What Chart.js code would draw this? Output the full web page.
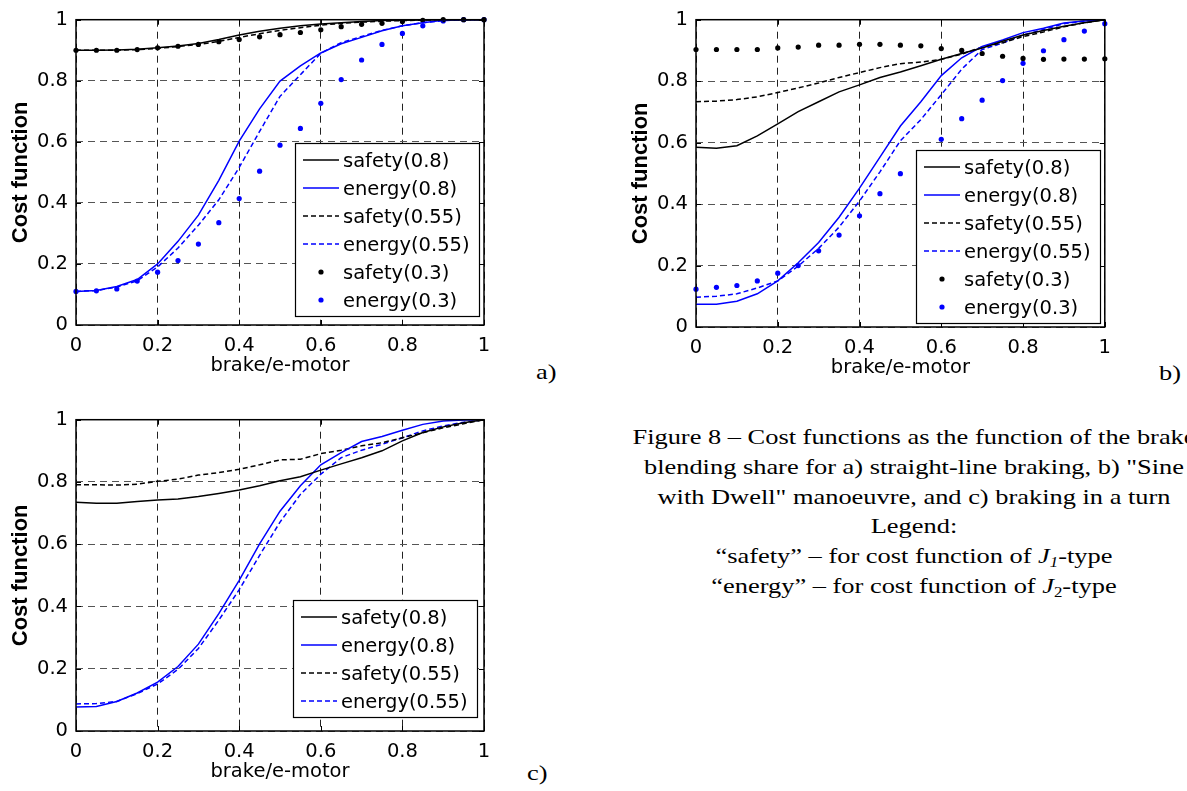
<!DOCTYPE html>
<html>
<head>
<meta charset="utf-8">
<script src="https://cdn.jsdelivr.net/npm/chart.js@4.4.1/dist/chart.umd.min.js"></script>
<style>
  html, body { margin: 0; padding: 0; background: #fff; }
  body { width: 1187px; height: 791px; overflow: hidden; position: relative; }
  canvas { position: absolute; }
  #chartA { left: 0; top: 0; }
  #chartB { left: 620px; top: 0; }
  #chartC { left: 0; top: 400px; }
  .tag, .caption {
    position: absolute;
    font-family: 'Liberation Serif', 'Times New Roman', serif;
    font-size: 22px;
    color: #000;
    white-space: nowrap;
  }
  .tag { line-height: 22px; transform: scaleX(1.2); transform-origin: 0 0; }
  .caption {
    left: 614px; top: 422px; width: 600px;
    text-align: center; line-height: 29.8px;
    transform: scaleX(1.2); transform-origin: 50% 0;
  }
  .caption sub { font-size: 14px; vertical-align: -4px; line-height: 0; }
</style>
</head>
<body>
<canvas id="chartA" width="500" height="388"></canvas>
<canvas id="chartB" width="500" height="390"></canvas>
<canvas id="chartC" width="500" height="394"></canvas>

<div class="tag" style="left:536px; top:361px;">a)</div>
<div class="tag" style="left:1159px; top:362px;">b)</div>
<div class="tag" style="left:527px; top:762px;">c)</div>

<div class="caption">
  Figure 8 – Cost functions as the function of the brake<br>
  blending share for a) straight-line braking, b) "Sine<br>
  with Dwell" manoeuvre, and c) braking in a turn<br>
  Legend:<br>
  “safety” – for cost function of <i>J<sub>1</sub></i>-type<br>
  “energy” – for cost function of <i>J</i><sub>2</sub>-type
</div>

<script>
// brake / e-motor share, sampled every 0.05
const brakeShare = [0, 0.05, 0.1, 0.15, 0.2, 0.25, 0.3, 0.35, 0.4, 0.45, 0.5,
                    0.55, 0.6, 0.65, 0.7, 0.75, 0.8, 0.85, 0.9, 0.95, 1];
const xTicks = [0, 0.2, 0.4, 0.6, 0.8, 1];
const yTicks = [0, 0.2, 0.4, 0.6, 0.8, 1];
const seriesLabels = ['safety(0.8)', 'energy(0.8)', 'safety(0.55)',
                      'energy(0.55)', 'safety(0.3)', 'energy(0.3)'];

// a) straight-line braking
const aSafety08  = [0.900, 0.900, 0.901, 0.903, 0.908, 0.914, 0.922, 0.935, 0.950, 0.962, 0.972,
                    0.980, 0.986, 0.990, 0.994, 0.997, 0.998, 0.999, 1.000, 1.000, 1.000];
const aEnergy08  = [0.110, 0.113, 0.126, 0.149, 0.200, 0.274, 0.360, 0.474, 0.602, 0.708, 0.799,
                    0.849, 0.891, 0.921, 0.942, 0.964, 0.980, 0.990, 0.998, 1.000, 1.000];
const aSafety055 = [0.900, 0.900, 0.900, 0.902, 0.906, 0.912, 0.919, 0.929, 0.942, 0.954, 0.965,
                    0.974, 0.982, 0.988, 0.992, 0.995, 0.997, 0.999, 1.000, 1.000, 1.000];
const aEnergy055 = [0.110, 0.113, 0.124, 0.145, 0.190, 0.252, 0.327, 0.410, 0.516, 0.634, 0.749,
                    0.820, 0.890, 0.925, 0.945, 0.965, 0.980, 0.990, 0.997, 1.000, 1.000];
const aSafety03  = [0.900, 0.900, 0.900, 0.902, 0.908, 0.913, 0.919, 0.928, 0.935, 0.944, 0.951,
                    0.958, 0.967, 0.977, 0.985, 0.988, 0.994, 0.998, 1.000, 1.000, 1.000];
const aEnergy03  = [0.110, 0.112, 0.118, 0.144, 0.173, 0.211, 0.265, 0.335, 0.414, 0.504, 0.589,
                    0.644, 0.726, 0.804, 0.868, 0.919, 0.955, 0.980, 0.996, 1.000, 1.000];

// b) "Sine with Dwell"
const bSafety08  = [0.585, 0.582, 0.590, 0.622, 0.661, 0.701, 0.733, 0.765, 0.788, 0.812, 0.830,
                    0.850, 0.871, 0.890, 0.908, 0.930, 0.950, 0.965, 0.979, 0.990, 1.000];
const bEnergy08  = [0.074, 0.074, 0.084, 0.108, 0.150, 0.209, 0.275, 0.357, 0.452, 0.553, 0.654,
                    0.733, 0.818, 0.876, 0.913, 0.934, 0.958, 0.972, 0.989, 0.996, 1.000];
const bSafety055 = [0.733, 0.735, 0.740, 0.749, 0.763, 0.778, 0.794, 0.812, 0.828, 0.844, 0.857,
                    0.862, 0.871, 0.888, 0.911, 0.925, 0.945, 0.960, 0.977, 0.990, 1.000];
const bEnergy055 = [0.097, 0.100, 0.108, 0.127, 0.150, 0.198, 0.256, 0.325, 0.410, 0.505, 0.606,
                    0.675, 0.756, 0.839, 0.903, 0.924, 0.950, 0.968, 0.987, 0.996, 1.000];
const bSafety03  = [0.903, 0.903, 0.903, 0.903, 0.908, 0.911, 0.917, 0.917, 0.920, 0.920, 0.917,
                    0.915, 0.906, 0.900, 0.890, 0.881, 0.874, 0.871, 0.872, 0.872, 0.873];
const bEnergy03  = [0.123, 0.129, 0.135, 0.150, 0.175, 0.200, 0.248, 0.299, 0.362, 0.434, 0.499,
                    0.555, 0.611, 0.678, 0.738, 0.802, 0.858, 0.899, 0.935, 0.963, 0.987];

// c) braking in a turn
const cSafety08  = [0.735, 0.732, 0.732, 0.737, 0.742, 0.745, 0.753, 0.763, 0.774, 0.788, 0.804,
                    0.817, 0.838, 0.858, 0.878, 0.900, 0.932, 0.959, 0.977, 0.990, 1.000];
const cEnergy08  = [0.077, 0.079, 0.095, 0.122, 0.157, 0.207, 0.279, 0.377, 0.484, 0.601, 0.706,
                    0.788, 0.855, 0.894, 0.930, 0.946, 0.966, 0.985, 0.996, 0.999, 1.000];
const cSafety055 = [0.791, 0.791, 0.790, 0.793, 0.802, 0.809, 0.822, 0.830, 0.841, 0.855, 0.871,
                    0.873, 0.891, 0.902, 0.916, 0.926, 0.942, 0.958, 0.974, 0.987, 1.000];
const cEnergy055 = [0.087, 0.088, 0.095, 0.120, 0.151, 0.198, 0.265, 0.356, 0.454, 0.564, 0.671,
                    0.760, 0.825, 0.878, 0.902, 0.921, 0.942, 0.964, 0.980, 0.992, 1.000];

const BLACK = '#000000';
const BLUE = '#0000ff';
const TICK_FONT = { family: 'DejaVu Sans', size: 19.5 };

// line style per legend slot
const styles = [
  { color: BLACK, kind: 'solid' },
  { color: BLUE,  kind: 'solid' },
  { color: BLACK, kind: 'dashed' },
  { color: BLUE,  kind: 'dashed' },
  { color: BLACK, kind: 'dots' },
  { color: BLUE,  kind: 'dots' }
];

function toDataset(values, i) {
  const st = styles[i];
  const ds = {
    label: seriesLabels[i],
    data: values.map((v, k) => ({ x: brakeShare[k], y: v })),
    borderColor: st.color,
    backgroundColor: st.color,
    borderWidth: 1.5,
    pointRadius: 0,
    tension: 0,
    clip: 4
  };
  if (st.kind === 'dashed') ds.borderDash = [5, 3];
  if (st.kind === 'dots') {
    ds.showLine = false;
    ds.pointRadius = 2.6;
    ds.pointBorderWidth = 0;
  }
  return ds;
}

const fmt = v => String(Number(Number(v).toFixed(2)));

// box around the axes with short inward ticks on all four sides
const frame = {
  id: 'frame',
  afterDraw(chart) {
    const { ctx, chartArea: a, scales } = chart;
    const len = 5;
    ctx.save();
    ctx.strokeStyle = '#000';
    ctx.lineWidth = 1;
    ctx.setLineDash([]);
    ctx.beginPath();
    xTicks.forEach(v => {
      const px = Math.round(scales.x.getPixelForValue(v)) + 0.5;
      ctx.moveTo(px, a.bottom); ctx.lineTo(px, a.bottom - len);
      ctx.moveTo(px, a.top);    ctx.lineTo(px, a.top + len);
    });
    yTicks.forEach(v => {
      const py = Math.round(scales.y.getPixelForValue(v)) + 0.5;
      ctx.moveTo(a.left, py);  ctx.lineTo(a.left + len, py);
      ctx.moveTo(a.right, py); ctx.lineTo(a.right - len, py);
    });
    ctx.stroke();
    ctx.lineWidth = 1.5;
    ctx.strokeRect(a.left, a.top, a.right - a.left, a.bottom - a.top);
    ctx.restore();
  }
};

// boxed legend sitting inside the lower right corner of the plot
const boxLegend = {
  id: 'boxLegend',
  afterDraw(chart, args, opts) {
    const { ctx, chartArea: a } = chart;
    const sets = chart.data.datasets;
    const rowH = 28;
    ctx.save();
    ctx.font = '19.5px "DejaVu Sans"';
    const textW = Math.max(...sets.map(d => ctx.measureText(d.label).width));
    const w = Math.round(48 + textW + 9);
    const h = 5 + sets.length * rowH;
    const x0 = Math.round(a.right - opts.right - w);
    const y0 = Math.round(a.bottom - opts.bottom - h);
    ctx.fillStyle = '#fff';
    ctx.fillRect(x0, y0, w, h);
    ctx.strokeStyle = '#000';
    ctx.lineWidth = 1.2;
    ctx.strokeRect(x0 + 0.5, y0 + 0.5, w, h);
    sets.forEach((d, i) => {
      const cy = y0 + 17 + i * rowH;
      ctx.strokeStyle = d.borderColor;
      ctx.fillStyle = d.borderColor;
      if (d.showLine === false) {
        ctx.beginPath();
        ctx.arc(x0 + 26, cy, 2.6, 0, Math.PI * 2);
        ctx.fill();
      } else {
        ctx.lineWidth = 1.5;
        ctx.setLineDash(d.borderDash || []);
        ctx.beginPath();
        ctx.moveTo(x0 + 8, cy);
        ctx.lineTo(x0 + 44, cy);
        ctx.stroke();
        ctx.setLineDash([]);
      }
      ctx.fillStyle = '#000';
      ctx.textBaseline = 'middle';
      ctx.fillText(d.label, x0 + 48, cy + 2);
    });
    ctx.restore();
  }
};

function buildChart(id, series, pad, legendGap) {
  const xAxisH = 63;
  return new Chart(document.getElementById(id), {
    type: 'line',
    data: { datasets: series.map(toDataset) },
    options: {
      responsive: false,
      animation: false,
      devicePixelRatio: 1,
      layout: { padding: { top: pad.top, right: pad.right, left: 0, bottom: 0 } },
      plugins: {
        legend: { display: false },
        tooltip: { enabled: false },
        boxLegend: legendGap
      },
      scales: {
        x: {
          type: 'linear',
          min: 0,
          max: 1,
          afterBuildTicks: s => { s.ticks = xTicks.map(v => ({ value: v })); },
          afterFit: s => { s.height = xAxisH; },
          grid: { color: '#222', lineWidth: 1, drawTicks: false },
          border: { display: false, dash: [7, 5] },
          ticks: { padding: 9, color: '#000', font: TICK_FONT, callback: fmt, maxRotation: 0 },
          title: {
            display: true,
            text: 'brake/e-motor',
            color: '#000',
            font: TICK_FONT,
            padding: { top: 0, bottom: 10 }
          }
        },
        y: {
          min: 0,
          max: 1,
          afterBuildTicks: s => { s.ticks = yTicks.map(v => ({ value: v })); },
          afterFit: s => { s.width = 76; },
          grid: { color: '#555', lineWidth: 1, drawTicks: false },
          border: { display: false, dash: [7, 5] },
          ticks: { padding: 8, color: '#000', font: TICK_FONT, callback: fmt },
          title: {
            display: true,
            text: 'Cost function',
            color: '#000',
            font: { family: 'Liberation Sans', size: 22, weight: 'bold' },
            padding: { top: 8, bottom: 0 }
          }
        }
      }
    },
    plugins: [frame, boxLegend]
  });
}

buildChart('chartA',
  [aSafety08, aEnergy08, aSafety055, aEnergy055, aSafety03, aEnergy03],
  { top: 12, right: 16 }, { right: 5, bottom: 9 });

buildChart('chartB',
  [bSafety08, bEnergy08, bSafety055, bEnergy055, bSafety03, bEnergy03],
  { top: 13, right: 13 }, { right: 5, bottom: 4 });

buildChart('chartC',
  [cSafety08, cEnergy08, cSafety055, cEnergy055],
  { top: 19, right: 16 }, { right: 7, bottom: 14 });
</script>
</body>
</html>
